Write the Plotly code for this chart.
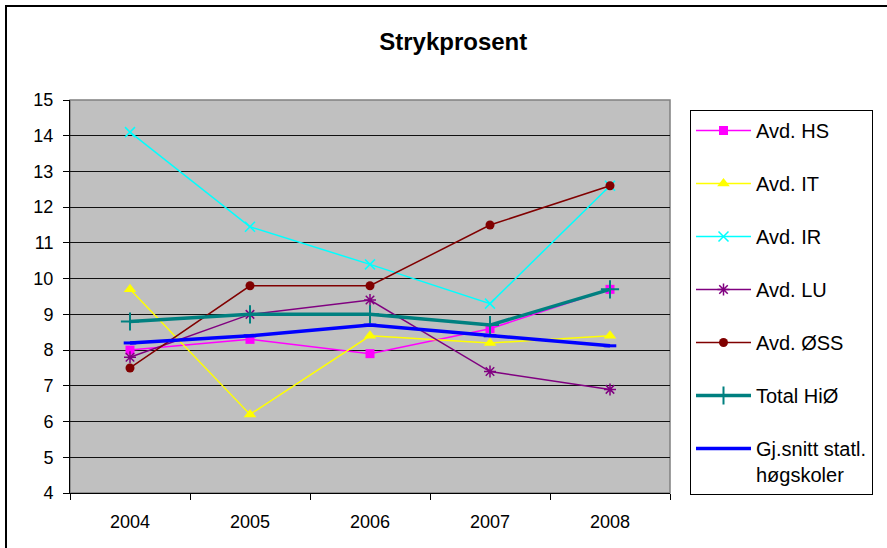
import plotly.graph_objects as go

years = ["2004", "2005", "2006", "2007", "2008"]
hs = [8.0, 8.3, 7.9, 8.6, 9.7]
it = [9.7, 6.2, 8.4, 8.2, 8.4]
ir = [14.1, 11.45, 10.4, 9.3, 12.6]
lu = [7.8, 9.0, 9.4, 7.4, 6.9]
oss = [7.5, 9.8, 9.8, 11.5, 12.6]
total = [8.8, 9.0, 9.0, 8.7, 9.7]
gjsnitt = [8.2, 8.4, 8.7, 8.4, 8.12]

series = [
    ("Avd. HS", hs, "#FF00FF", 1.5, dict(symbol="square", size=9)),
    ("Avd. IT", it, "#FFFF00", 1.5, dict(symbol="triangle-up", size=11)),
    ("Avd. IR", ir, "#00FFFF", 1.5, dict(symbol="x-thin", size=10, line=dict(width=1.5, color="#00FFFF"))),
    ("Avd. LU", lu, "#800080", 1.5, dict(symbol="asterisk", size=10, line=dict(width=1.5, color="#800080"))),
    ("Avd. ØSS", oss, "#800000", 1.5, dict(symbol="circle", size=9)),
    ("Total HiØ", total, "#008080", 3.5, dict(symbol="cross-thin", size=13, line=dict(width=2, color="#008080"))),
    ("Gj.snitt statl.<br>høgskoler", gjsnitt, "#0000FF", 3.5, dict(symbol="line-ew", size=9, line=dict(width=3, color="#0000FF"))),
]

fig = go.Figure()
for i, (name, vals, color, lw, marker) in enumerate(series):
    m = dict(color=color)
    m.update(marker)
    fig.add_trace(go.Scatter(
        x=years, y=vals, name=name, mode="lines+markers",
        line=dict(color=color, width=lw), marker=m,
        legendgroup=f"g{i}",
    ))

W, H = 887, 548
L, R, T, B = 70, 217, 100, 55

fig.update_layout(
    width=W, height=H,
    margin=dict(l=L, r=R, t=T, b=B),
    paper_bgcolor="white",
    plot_bgcolor="#C0C0C0",
    font=dict(family="Liberation Sans, Arial, sans-serif", size=17, color="black"),
    title=dict(text="<b>Strykprosent</b>", x=0.511, xanchor="center",
               y=1 - 42 / H, yanchor="middle",
               font=dict(size=24, color="black")),
    showlegend=True,
    legend=dict(
        x=(690 - L) / (W - L - R), xanchor="left",
        y=(H - B - 110) / (H - T - B), yanchor="top",
        bgcolor="white", bordercolor="black", borderwidth=1,
        font=dict(size=20), tracegroupgap=24, itemwidth=55, valign="top",
    ),
    xaxis=dict(
        type="category", range=[-0.5, 4.5], tickson="boundaries",
        ticks="outside", ticklen=6, tickcolor="black",
        showline=True, linecolor="black", linewidth=1,
        showgrid=False, zeroline=False,
        tickfont=dict(size=18), ticklabelstandoff=12,
    ),
    yaxis=dict(
        range=[4, 15], dtick=1, tick0=4,
        ticks="outside", ticklen=6, tickcolor="black",
        showline=True, linecolor="black", linewidth=1,
        showgrid=True, gridcolor="#111111", gridwidth=1,
        zeroline=False, tickfont=dict(size=18), ticklabelstandoff=6,
    ),
)

# plot area border (gray top/right)
fig.add_shape(type="rect", xref="paper", yref="paper", x0=0, x1=1, y0=0, y1=1,
              line=dict(color="#808080", width=1.5), layer="below")
# outer chart frame
pw, ph = W - L - R, H - T - B
fig.add_shape(type="rect", xref="paper", yref="paper",
              x0=(6 - L) / pw, x1=(W + 20 - L) / pw,
              y0=(H - B - (H + 20)) / ph, y1=(H - B - 6) / ph,
              line=dict(color="black", width=2))

fig.write_html("out.html", config={"displayModeBar": False},
               post_script="document.body.style.margin='0px';document.body.style.overflow='hidden';")
